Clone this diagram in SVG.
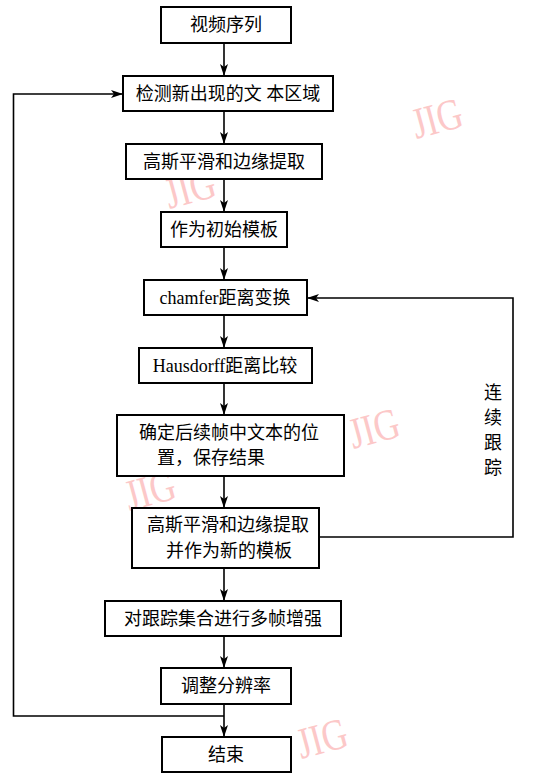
<svg xmlns="http://www.w3.org/2000/svg" width="554" height="773" viewBox="0 0 554 773">
<style>
.box{fill:#fff;stroke:#000;stroke-width:2}
.t{font-family:"Liberation Serif","Noto Sans CJK SC",serif;font-size:18px;fill:#000;text-anchor:middle;dominant-baseline:central}
.ln{fill:none;stroke:#000;stroke-width:1.6}
.wm{font-family:"Liberation Serif",serif;font-size:44px;fill:#fcc8c8;text-anchor:middle;dominant-baseline:central}
</style>
<defs>
<marker id="ah" viewBox="0 0 12 8" refX="12" refY="4" markerWidth="12" markerHeight="8" markerUnits="userSpaceOnUse" orient="auto">
<path d="M0,0 L12,4 L0,8 L3,4 Z" fill="#000"/>
</marker>
</defs>
<g id="watermarks">
<text class="wm" transform="translate(437,118) rotate(-15) scale(0.8,1)">JIG</text>
<text class="wm" transform="translate(190,188) rotate(-15) scale(0.8,1)">JIG</text>
<text class="wm" transform="translate(374,428) rotate(-15) scale(0.8,1)">JIG</text>
<text class="wm" transform="translate(150,490) rotate(-15) scale(0.8,1)">JIG</text>
<text class="wm" transform="translate(322,738) rotate(-15) scale(0.8,1)">JIG</text>
</g>
<g id="connectors">
<line class="ln" x1="224" y1="43" x2="224" y2="76" marker-end="url(#ah)"/>
<line class="ln" x1="224" y1="111" x2="224" y2="144" marker-end="url(#ah)"/>
<line class="ln" x1="224" y1="179" x2="224" y2="212" marker-end="url(#ah)"/>
<line class="ln" x1="224" y1="247" x2="224" y2="280" marker-end="url(#ah)"/>
<line class="ln" x1="224" y1="315" x2="224" y2="348" marker-end="url(#ah)"/>
<line class="ln" x1="224" y1="383" x2="224" y2="415" marker-end="url(#ah)"/>
<line class="ln" x1="224" y1="476" x2="224" y2="508" marker-end="url(#ah)"/>
<line class="ln" x1="224" y1="568" x2="224" y2="601" marker-end="url(#ah)"/>
<line class="ln" x1="224" y1="636" x2="224" y2="668" marker-end="url(#ah)"/>
<line class="ln" x1="224" y1="704" x2="224" y2="737" marker-end="url(#ah)"/>
<polyline class="ln" points="224,716 13.5,716 13.5,94 123,94" marker-end="url(#ah)"/>
<polyline class="ln" points="319,537 513,537 513,298 307,298" marker-end="url(#ah)"/>
<text class="t" x="493" y="393">连</text>
<text class="t" x="493" y="418">续</text>
<text class="t" x="493" y="443">跟</text>
<text class="t" x="493" y="468">踪</text>
</g>
<g id="n1"><rect class="box" x="161" y="7" width="130" height="36"/><text class="t" x="226" y="25">视频序列</text></g>
<g id="n2"><rect class="box" x="123" y="76" width="210" height="35"/><text class="t" x="228" y="94">检测新出现的文 本区域</text></g>
<g id="n3"><rect class="box" x="126" y="144" width="196" height="35"/><text class="t" x="224" y="162">高斯平滑和边缘提取</text></g>
<g id="n4"><rect class="box" x="161" y="212" width="126" height="35"/><text class="t" x="224" y="230">作为初始模板</text></g>
<g id="n5"><rect class="box" x="144" y="280" width="163" height="35"/><text class="t" x="225" y="298">chamfer距离变换</text></g>
<g id="n6"><rect class="box" x="139" y="348" width="173" height="35"/><text class="t" x="225" y="366">Hausdorff距离比较</text></g>
<g id="n7"><rect class="box" x="117" y="415" width="227" height="61"/><text class="t" x="229" y="433">确定后续帧中文本的位</text><text class="t" x="211" y="458">置，保存结果</text></g>
<g id="n8"><rect class="box" x="132" y="508" width="187" height="60"/><text class="t" x="228" y="525">高斯平滑和边缘提取</text><text class="t" x="229" y="551">并作为新的模板</text></g>
<g id="n9"><rect class="box" x="105" y="601" width="236" height="35"/><text class="t" x="223" y="619">对跟踪集合进行多帧增强</text></g>
<g id="n10"><rect class="box" x="161" y="668" width="130" height="36"/><text class="t" x="226" y="686">调整分辨率</text></g>
<g id="n11"><rect class="box" x="162" y="737" width="129" height="35"/><text class="t" x="226" y="755">结束</text></g>
</svg>
